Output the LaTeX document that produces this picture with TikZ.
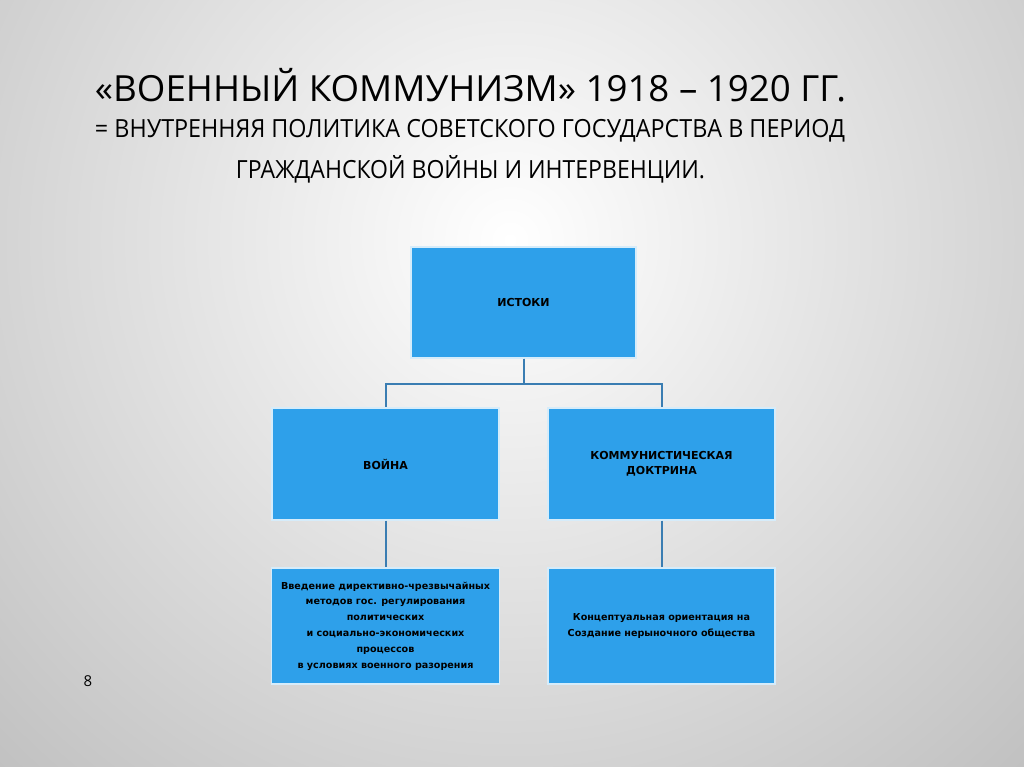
\documentclass[tikz,border=0pt]{standalone}
\usepackage{fontspec}
\setmainfont{Open Sans}
\newfontfamily\boxfont{DejaVu Sans}
\usepackage{graphicx}
\definecolor{boxblue}{HTML}{2EA0EA}
\definecolor{boxedge}{HTML}{D6ECFA}
\definecolor{linkblue}{HTML}{3A7DB2}
\definecolor{bgout}{HTML}{B9B9B9}
\begin{document}
\begin{tikzpicture}[x=1pt,y=-1pt,
  blk/.style={rectangle,draw=boxedge,line width=1.2pt,fill=boxblue,inner sep=2pt,
    font=\boxfont\bfseries\fontsize{11}{15}\selectfont,align=center},
  blksmall/.style={blk,font=\boxfont\bfseries\fontsize{9.6}{15.8}\selectfont},
  link/.style={draw=linkblue,line width=2pt}]
\useasboundingbox (0,0) rectangle (1024,767);
\begin{scope}
  \clip (0,0) rectangle (1024,767);
  \shade[inner color=white,outer color=bgout] (510,240) circle (830);
\end{scope}
% titles
\node[anchor=base,inner sep=0] (t1) at (470.5,102) {\resizebox{751pt}{\height}{\fontsize{36}{40}\selectfont «ВОЕННЫЙ КОММУНИЗМ» 1918 – 1920 ГГ.}};
\node[anchor=base,inner sep=0] (t2) at (470,138) {\resizebox{750pt}{\height}{\fontsize{25}{30}\selectfont = ВНУТРЕННЯЯ ПОЛИТИКА СОВЕТСКОГО ГОСУДАРСТВА В ПЕРИОД}};
\node[anchor=base,inner sep=0] (t3) at (470.5,179) {\resizebox{469pt}{\height}{\fontsize{25}{30}\selectfont ГРАЖДАНСКОЙ ВОЙНЫ И ИНТЕРВЕНЦИИ.}};
% boxes
\node[blk,minimum width=225pt,minimum height=111pt] (ist) at (523.5,302.5) {ИСТОКИ};
\node[blk,minimum width=227pt,minimum height=112pt] (war) at (385.5,464) {ВОЙНА};
\node[blk,minimum width=227pt,minimum height=112pt] (doc) at (661.5,464) {КОММУНИСТИЧЕСКАЯ\\ДОКТРИНА};
\node[blksmall,minimum width=228pt,minimum height=116pt] (bl) at (385.5,626)
  {Введение директивно-чрезвычайных\\методов гос. регулирования\\политических\\и социально-экономических\\процессов\\в условиях военного разорения};
\node[blksmall,minimum width=227pt,minimum height=116pt] (br) at (661.5,626)
  {Концептуальная ориентация на\\Создание нерыночного общества};
% connectors
\draw[link] (ist.south) -- ++(0,25) -| (war.north);
\draw[link] (ist.south) -- ++(0,25) -| (doc.north);
\draw[link] (war.south) -- (bl.north);
\draw[link] (doc.south) -- (br.north);
% page number
\node[font=\fontsize{15}{18}\selectfont,inner sep=0] (pg) at (88,681) {8};
\end{tikzpicture}
\end{document}
